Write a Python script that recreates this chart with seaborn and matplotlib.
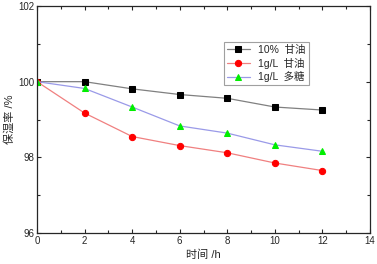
import pandas as pd
import seaborn as sns
import matplotlib.pyplot as plt
from matplotlib.ticker import MultipleLocator

hours = [0, 2, 4, 6, 8, 10, 12]
glycerol_10pct = [100.0, 100.0, 99.81, 99.66, 99.56, 99.33, 99.25]
glycerol_1gl = [100.0, 99.17, 98.55, 98.31, 98.12, 97.85, 97.65]
polysaccharide_1gl = [100.0, 99.82, 99.33, 98.83, 98.64, 98.33, 98.16]
labels = ["10%  甘油", "1g/L  甘油", "1g/L  多糖"]

df = pd.DataFrame({"time": hours * 3,
                   "value": glycerol_10pct + glycerol_1gl + polysaccharide_1gl,
                   "series": [labels[0]] * 7 + [labels[1]] * 7 + [labels[2]] * 7})

sns.set_style("ticks")
plt.rcParams['font.family'] = ['Liberation Sans', 'Noto Sans CJK SC']

fig = plt.figure(figsize=(3.77, 2.64), dpi=100)
ax = fig.add_axes([37 / 377, 31 / 264, 333 / 377, 227 / 264])

line_colors = ["#808080", "#f08080", "#9a9ae8"]
marker_colors = ["black", "red", "#00ee00"]
markers = ["s", "o", "^"]
for lab, lc, mc, mk in zip(labels, line_colors, marker_colors, markers):
    sub = df[df["series"] == lab]
    sns.lineplot(data=sub, x="time", y="value", ax=ax, color=lc, lw=0.9,
                 marker=mk, markersize=4.5, markerfacecolor=mc,
                 markeredgecolor=mc, label=lab)

ax.set_xlim(0, 14)
ax.set_ylim(96, 102)
ax.xaxis.set_major_locator(MultipleLocator(2))
ax.xaxis.set_minor_locator(MultipleLocator(1))
ax.yaxis.set_major_locator(MultipleLocator(2))
ax.yaxis.set_minor_locator(MultipleLocator(1))
ax.tick_params(which="both", direction="in", top=True, right=True,
               labelsize=7, width=0.8, pad=2)
ax.tick_params(which="major", length=3)
ax.tick_params(which="minor", length=2)
for s in ax.spines.values():
    s.set_linewidth(0.9)
ax.set_xlabel("时间 /h", fontsize=8, labelpad=3)
ax.set_ylabel("保湿率 /%", fontsize=8, labelpad=2)

leg = ax.legend(loc="upper left", bbox_to_anchor=(0.545, 0.865), fontsize=7.5,
                frameon=True, fancybox=False, edgecolor="#888888",
                handlelength=2.2, borderpad=0.3, labelspacing=0.25)
leg.get_frame().set_linewidth(0.8)

fig.savefig("out.png", dpi=100)
